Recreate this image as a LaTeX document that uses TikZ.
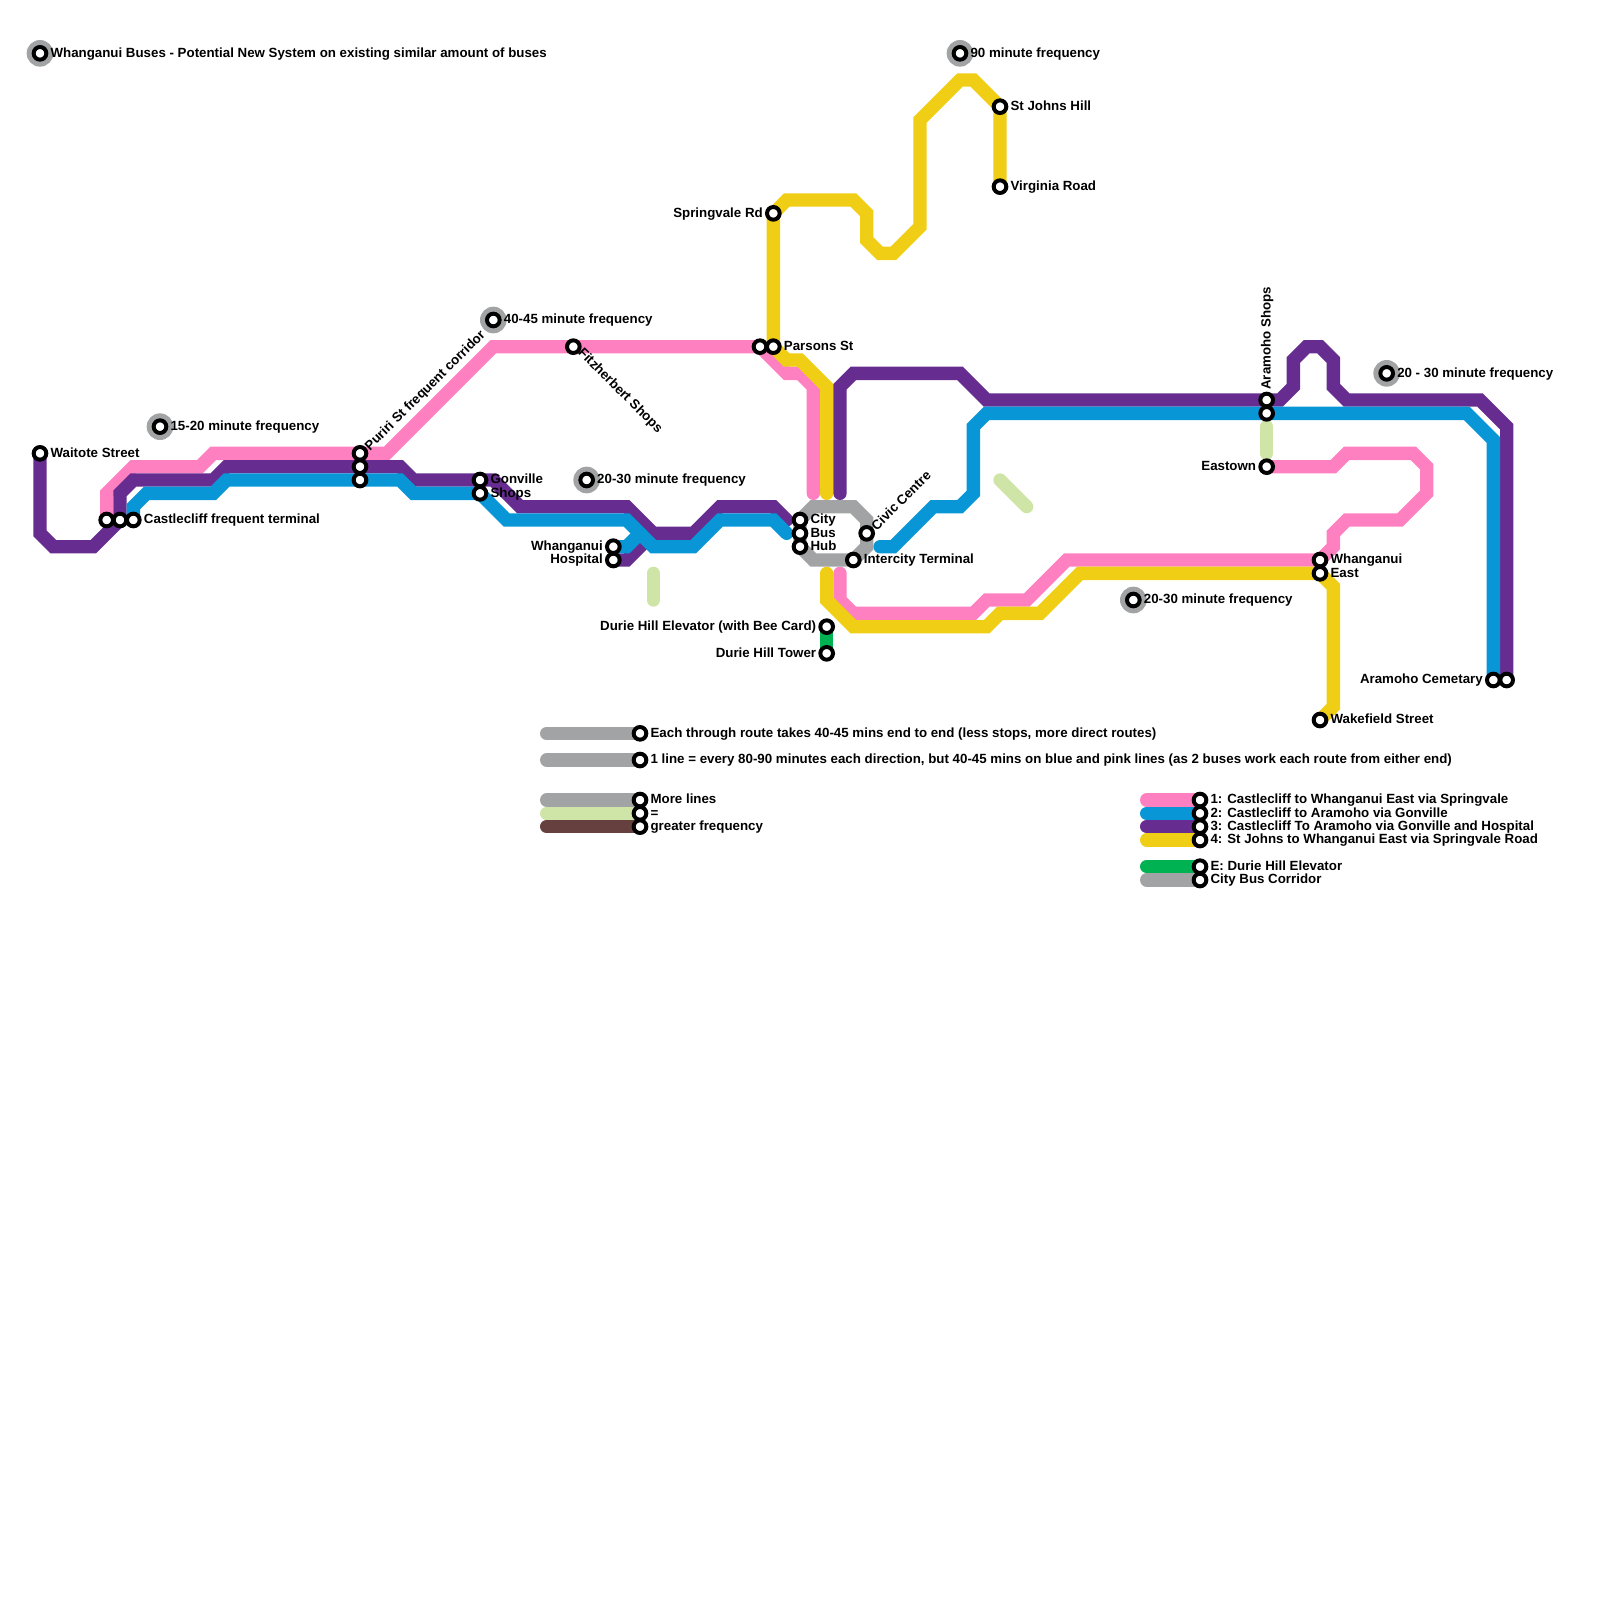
\documentclass[tikz,border=0pt]{standalone}
\usepackage{fontspec}
\setmainfont{Liberation Sans}
\usepackage{tikz}
\usetikzlibrary{backgrounds}
\definecolor{wgpink}{HTML}{FF80C0}
\definecolor{wgblue}{HTML}{0896D7}
\definecolor{wgpurple}{HTML}{662C90}
\definecolor{wgyellow}{HTML}{F0CE15}
\definecolor{wggreen}{HTML}{00B251}
\definecolor{wggray}{HTML}{A1A3A4}
\definecolor{wglime}{HTML}{CFE4A7}
\definecolor{wgbrown}{HTML}{663F3F}

\begin{document}
\begin{tikzpicture}[x=0.4cm,y=-0.4cm,
  st/.style={circle,draw=black,fill=white,line width=3.4pt,inner sep=0pt,outer sep=0pt,minimum size=10.8pt},
  hl/.style={circle,fill=wggray,inner sep=0pt,outer sep=0pt,minimum size=0.8cm},
  rt/.style={line width=0.4cm,line cap=round,line join=miter},
  tx/.style={inner sep=0pt,font=\bfseries\fontsize{11.36}{13}\selectfont},
  lr/.style={tx,anchor=base west,xshift=0.31cm,yshift=-0.11cm},
  ll/.style={tx,anchor=base east,xshift=-0.31cm,yshift=-0.11cm}]
\useasboundingbox (0,0) rectangle (120,120);
% Frequency halos
\foreach \nm/\x/\y in {hTitle/3/4,hFifteen/12/32,hForty/37/24,hTwenty/44/36,hNinety/72/4,hEast/85/45,hAramoho/104/28}
  \node[hl] (\nm) at (\x,\y) {};
% Stops
\foreach \nm/\x/\y in {sTitle/3/4,sFifteen/12/32,sForty/37/24,sTwenty/44/36,sNinety/72/4,sFreqE/85/45,sFreqA/104/28,
  sWaitote/3/34,sCliffA/8/39,sCliffB/9/39,sCliffC/10/39,sPuriA/27/34,sPuriB/27/35,sPuriC/27/36,
  sGonA/36/36,sGonB/36/37,sFitz/43/26,sHospA/46/41,sHospB/46/42,sParsA/57/26,sParsB/58/26,sSpring/58/16,
  sCity/60/39,sBus/60/40,sHub/60/41,sCivic/65/40,sInter/64/42,sElev/62/47,sTower/62/49,
  sJohns/75/8,sVirg/75/14,sAraA/95/30,sAraB/95/31,sEastown/95/35,sEastA/99/42,sEastB/99/43,sWake/99/54,
  sCemA/112/51,sCemB/113/51,
  sKeyA/48/55,sKeyB/48/57,sKeyC/48/60,sKeyD/48/61,sKeyE/48/62,
  sLegA/90/60,sLegB/90/61,sLegC/90/62,sLegD/90/63,sLegE/90/65,sLegF/90/66}
  \node[st] (\nm) at (\x,\y) {};
\begin{pgfonlayer}{background}
% Line 1
\draw[rt,wgpink] (sCliffA.center) -- (8,37) -- (10,35) -- (15,35) -- (16,34) -- (29,34) -- (37,26) -- (57,26) -- (59,28) -- (60,28) -- (61,29) -- (61,37);
\draw[rt,wgpink] (63,43) -- (63,45) -- (64,46) -- (73,46) -- (74,45) -- (77,45) -- (80,42) -- (99,42) -- (100,41) -- (100,40) -- (101,39) -- (105,39) -- (107,37) -- (107,35) -- (106,34) -- (101,34) -- (100,35) -- (sEastown.center);
% Line 4
\draw[rt,wgyellow] (sVirg.center) -- (75,8) -- (73,6) -- (72,6) -- (69,9) -- (69,17) -- (67,19) -- (66,19) -- (65,18) -- (65,16) -- (64,15) -- (59,15) -- (58,16) -- (58,26) -- (59,27) -- (60,27) -- (62,29) -- (62,37);
\draw[rt,wgyellow] (62,43) -- (62,45) -- (64,47) -- (74,47) -- (75,46) -- (78,46) -- (81,43) -- (99,43) -- (100,44) -- (100,53) -- (sWake.center);
% Line 3
\draw[rt,wgpurple] (sWaitote.center) -- (3,40) -- (4,41) -- (7,41) -- (9,39) -- (9,37) -- (10,36) -- (16,36) -- (17,35) -- (30,35) -- (31,36) -- (37,36) -- (39,38) -- (47,38) -- (49,40) -- (52,40) -- (54,38) -- (58,38) -- (59,39);
\draw[rt,wgpurple] (sHospB.center) -- (47,42) -- (49,40);
\draw[rt,wgpurple] (63,37) -- (63,29) -- (64,28) -- (72,28) -- (74,30) -- (96,30) -- (97,29) -- (97,27) -- (98,26) -- (99,26) -- (100,27) -- (100,29) -- (101,30) -- (111,30) -- (113,32) -- (sCemB.center);
% Line 2
\draw[rt,wgblue] (sCliffC.center) -- (10,38) -- (11,37) -- (16,37) -- (17,36) -- (30,36) -- (31,37) -- (36,37) -- (38,39) -- (47,39) -- (49,41) -- (52,41) -- (54,39) -- (58,39) -- (59,40);
\draw[rt,wgblue] (sHospA.center) -- (47,41) -- (48,40);
\draw[rt,wgblue] (66,41) -- (67,41) -- (70,38) -- (72,38) -- (73,37) -- (73,32) -- (74,31) -- (110,31) -- (112,33) -- (sCemA.center);
% City corridor, elevator and the extra-frequency pieces
\draw[rt,wggray] (61,38) -- (64,38) -- (65,39) -- (65,41) -- (64,42) -- (61,42) -- (60,41) -- (60,39) -- cycle;
\draw[rt,wggreen] (sElev.center) -- (sTower.center);
\draw[rt,wglime] (49,43) -- (49,45);
\draw[rt,wglime] (75,36) -- (77,38);
\draw[rt,wglime] (95,32) -- (95,34);
% Key
\draw[rt,wggray] (41,55) -- (sKeyA.center);
\draw[rt,wggray] (41,57) -- (sKeyB.center);
\draw[rt,wggray] (41,60) -- (sKeyC.center);
\draw[rt,wglime] (41,61) -- (sKeyD.center);
\draw[rt,wgbrown] (41,62) -- (sKeyE.center);
\draw[rt,wgpink] (86,60) -- (sLegA.center);
\draw[rt,wgblue] (86,61) -- (sLegB.center);
\draw[rt,wgpurple] (86,62) -- (sLegC.center);
\draw[rt,wgyellow] (86,63) -- (sLegD.center);
\draw[rt,wggreen] (86,65) -- (sLegE.center);
\draw[rt,wggray] (86,66) -- (sLegF.center);
\end{pgfonlayer}
% Labels
\node[lr] (lTitle) at (sTitle) {Whanganui Buses - Potential New System on existing similar amount of buses};
\node[lr] (lFifteen) at (sFifteen) {15-20 minute frequency};
\node[lr] (lForty) at (sForty) {40-45 minute frequency};
\node[lr] (lTwenty) at (sTwenty) {20-30 minute frequency};
\node[lr] (lNinety) at (sNinety) {90 minute frequency};
\node[lr] (lFreqE) at (sFreqE) {20-30 minute frequency};
\node[lr] (lFreqA) at (sFreqA) {20 - 30 minute frequency};
\node[lr] (lWaitote) at (sWaitote) {Waitote Street};
\node[lr] (lCliff) at (sCliffC) {Castlecliff frequent terminal};
\node[lr] (lGonA) at (sGonA) {Gonville};
\node[lr] (lGonB) at (sGonB) {Shops};
\node[ll] (lHospA) at (sHospA) {Whanganui};
\node[ll] (lHospB) at (sHospB) {Hospital};
\node[ll] (lSpring) at (sSpring) {Springvale Rd};
\node[lr] (lPars) at (sParsB) {Parsons St};
\node[lr] (lJohns) at (sJohns) {St Johns Hill};
\node[lr] (lVirg) at (sVirg) {Virginia Road};
\node[lr] (lCity) at (sCity) {City};
\node[lr] (lBus) at (sBus) {Bus};
\node[lr] (lHub) at (sHub) {Hub};
\node[lr] (lInter) at (sInter) {Intercity Terminal};
\node[ll] (lElev) at (sElev) {Durie Hill Elevator (with Bee Card)};
\node[ll] (lTower) at (sTower) {Durie Hill Tower};
\node[ll] (lEastown) at (sEastown) {Eastown};
\node[lr] (lEastA) at (sEastA) {Whanganui};
\node[lr] (lEastB) at (sEastB) {East};
\node[lr] (lWake) at (sWake) {Wakefield Street};
\node[ll] (lCem) at (sCemA) {Aramoho Cemetary};
\node[tx,anchor=base west,rotate=45] (lPuri) at (27.75,33.85) {Puriri St frequent corridor};
\node[tx,anchor=base west,rotate=45] (lCivic) at (65.75,39.85) {Civic Centre};
\node[tx,anchor=base west,rotate=-45] (lFitz) at (43.3,26.5) {Fitzherbert Shops};
\node[tx,anchor=base west,rotate=90] (lAra) at (95.3,29.25) {Aramoho Shops};
\node[lr] (lKeyA) at (sKeyA) {Each through route takes 40-45 mins end to end (less stops, more direct routes)};
\node[lr] (lKeyB) at (sKeyB) {1 line = every 80-90 minutes each direction, but 40-45 mins on blue and pink lines (as 2 buses work each route from either end)};
\node[lr] (lKeyC) at (sKeyC) {More lines};
\node[lr] (lKeyD) at (sKeyD) {=};
\node[lr] (lKeyE) at (sKeyE) {greater frequency};
\node[lr] (lLegA) at (sLegA) {1: Castlecliff to Whanganui East via Springvale};
\node[lr] (lLegB) at (sLegB) {2: Castlecliff to Aramoho via Gonville};
\node[lr] (lLegC) at (sLegC) {3: Castlecliff To Aramoho via Gonville and Hospital};
\node[lr] (lLegD) at (sLegD) {4: St Johns to Whanganui East via Springvale Road};
\node[lr] (lLegE) at (sLegE) {E: Durie Hill Elevator};
\node[lr] (lLegF) at (sLegF) {City Bus Corridor};
\end{tikzpicture}
\end{document}
